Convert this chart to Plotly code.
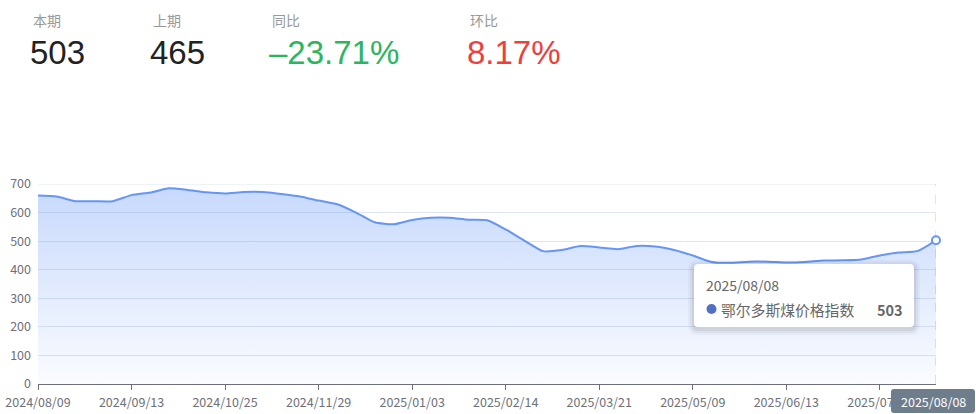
import plotly.graph_objects as go

dates = ["2024/08/09","2024/08/16","2024/08/23","2024/08/30","2024/09/06","2024/09/13",
         "2024/09/20","2024/09/27","2024/10/11","2024/10/18","2024/10/25",
         "2024/11/01","2024/11/08","2024/11/15","2024/11/22","2024/11/29",
         "2024/12/06","2024/12/13","2024/12/20","2024/12/27","2025/01/03",
         "2025/01/10","2025/01/17","2025/01/24","2025/02/07","2025/02/14",
         "2025/02/21","2025/02/28","2025/03/07","2025/03/14","2025/03/21",
         "2025/03/28","2025/04/11","2025/04/18","2025/04/25","2025/05/09",
         "2025/05/16","2025/05/23","2025/05/30","2025/06/06","2025/06/13",
         "2025/06/20","2025/06/27","2025/07/04","2025/07/11","2025/07/18",
         "2025/07/25","2025/08/01","2025/08/08"]
values = [660,656,640,640,640,661,670,685,679,671,667,672,672,665,656,642,629,600,566,559,
          574,582,582,575,573,541,502,465,469,483,478,472,483,481,469,450,427,424,428,428,
          425,427,432,433,436,450,460,465,503]
series_name = "鄂尔多斯煤价格指数"
header_labels = ["本期", "上期", "同比", "环比"]
header_values = ["503", "465", "\u201323.71%", "8.17%"]
tick_idx = list(range(0, len(dates), 5))
y_max = 700

W, H = 976, 414
L, R, T, B = 38, 40, 184, 30
PW, PH = W - L - R, H - T - B

def px(x):
    return (x - L) / PW

def py(y):
    return (H - B - y) / PH

def rrect(x0, y0, x1, y1, r):
    # rounded rectangle path in paper coordinates from pixel box
    X0, X1 = px(x0), px(x1)
    Y0, Y1 = py(y1), py(y0)
    rx, ry = r / PW, r / PH
    return (f"M{X0+rx},{Y0} L{X1-rx},{Y0} Q{X1},{Y0} {X1},{Y0+ry} "
            f"L{X1},{Y1-ry} Q{X1},{Y1} {X1-rx},{Y1} L{X0+rx},{Y1} "
            f"Q{X0},{Y1} {X0},{Y1-ry} L{X0},{Y0+ry} Q{X0},{Y0} {X0+rx},{Y0} Z")

line_color = "#6495f7"
fig = go.Figure()
fig.add_trace(go.Scatter(
    x=dates, y=values, mode="lines", name=series_name,
    line=dict(color=line_color, width=2, shape="spline", smoothing=0.6),
    fill="tozeroy",
    fillgradient=dict(type="vertical", start=0, stop=690,
                      colorscale=[[0, "rgba(100,149,247,0.03)"], [1, "rgba(100,149,247,0.36)"]]),
    hoverinfo="skip", showlegend=False,
))
fig.add_trace(go.Scatter(
    x=[dates[-1]], y=[values[-1]], mode="markers",
    marker=dict(size=8, color="white", line=dict(color=line_color, width=2)),
    hoverinfo="skip", showlegend=False, cliponaxis=False,
))

shapes = []
# top gridline (at axis max)
shapes.append(dict(type="line", xref="paper", yref="y", x0=0, x1=1, y0=y_max, y1=y_max,
                   line=dict(color="#e0e6f1", width=1), layer="below"))
# axis pointer
shapes.append(dict(type="line", xref="x", yref="paper", x0=dates[-1], x1=dates[-1], y0=0, y1=1,
                   line=dict(color="#c8c8c8", width=1, dash="dash"), layer="below"))
# tooltip shadow + box
for i, op in [(6, 0.03), (4, 0.04), (2, 0.06)]:
    shapes.append(dict(type="path", xref="paper", yref="paper",
                       path=rrect(694 - i, 264 - i + 2, 914 + i, 327 + i + 2, 4 + i),
                       fillcolor=f"rgba(0,0,0,{op})", line=dict(width=0), layer="above"))
shapes.append(dict(type="path", xref="paper", yref="paper", path=rrect(694, 264, 914, 327, 4),
                   fillcolor="white", line=dict(width=0), layer="above"))
shapes.append(dict(type="circle", xref="paper", yref="paper",
                   x0=px(706.5), x1=px(716.5), y0=py(314), y1=py(304),
                   fillcolor="#5470c6", line=dict(width=0), layer="above"))
# axis pointer label box
shapes.append(dict(type="path", xref="paper", yref="paper", path=rrect(891, 389, 975, 413, 3),
                   fillcolor="#6e7d8c", line=dict(width=0), layer="above"))

ann = []
hx = [31, 151, 270, 468]
hcol = ["#222222", "#222222", "#2db55d", "#ee3e3e"]
for x, lab, val, c in zip(hx, header_labels, header_values, hcol):
    ann.append(dict(xref="paper", yref="paper", x=px(x), y=py(20), text=lab, showarrow=False,
                    xanchor="left", yanchor="middle",
                    font=dict(size=14, color="#999999", family="Noto Sans CJK SC")))
    ann.append(dict(xref="paper", yref="paper", x=px(x - 3), y=py(52), text=val, showarrow=False,
                    xanchor="left", yanchor="middle",
                    font=dict(size=33, color=c, family="Liberation Sans, Arial")))
ann.append(dict(xref="paper", yref="paper", x=px(704), y=py(285), text=dates[-1], showarrow=False,
                xanchor="left", yanchor="middle",
                font=dict(size=14, color="#666666", family="Noto Sans CJK SC")))
ann.append(dict(xref="paper", yref="paper", x=px(719), y=py(309), text=series_name, showarrow=False,
                xanchor="left", yanchor="middle",
                font=dict(size=14.8, color="#666666", family="Noto Sans CJK SC")))
ann.append(dict(xref="paper", yref="paper", x=px(905), y=py(309), text=f"<b>{values[-1]}</b>",
                showarrow=False, xanchor="right", yanchor="middle",
                font=dict(size=14.5, color="#666666", family="Noto Sans CJK SC")))
ann.append(dict(xref="paper", yref="paper", x=px(933), y=py(401), text=dates[-1], showarrow=False,
                xanchor="center", yanchor="middle",
                font=dict(size=12.5, color="white", family="Noto Sans CJK SC")))

fig.update_layout(
    width=W, height=H, margin=dict(l=L, r=R, t=T, b=B, autoexpand=False),
    paper_bgcolor="white", plot_bgcolor="white",
    font=dict(family="Noto Sans CJK SC", size=12, color="#6e7079"),
    shapes=shapes, annotations=ann, showlegend=False,
)
fig.update_xaxes(type="category", range=[0, len(dates) - 1], automargin=False,
                 tickvals=[dates[i] for i in tick_idx], ticktext=[dates[i] for i in tick_idx],
                 showgrid=False, showline=True, linecolor="#6e7079", linewidth=1,
                 ticks="outside", ticklen=5, tickcolor="#6e7079", ticklabelstandoff=2,
                 tickfont=dict(size=12.5, color="#6e7079"), zeroline=False)
fig.update_yaxes(range=[0, y_max], dtick=100, showgrid=True, gridcolor="#e0e6f1", gridwidth=1,
                 automargin=False,
                 showline=False, zeroline=False, ticks="", ticklabelstandoff=6,
                 tickfont=dict(size=12.5, color="#6e7079"))

fig.write_html("out.html", config={"displayModeBar": False},
               post_script="document.body.style.margin='0';document.body.style.overflow='hidden';")
